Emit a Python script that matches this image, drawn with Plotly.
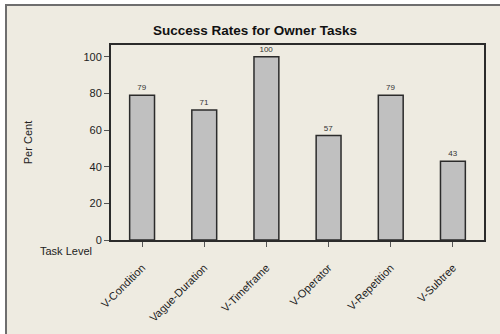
import plotly.graph_objects as go

tasks = ["V-Condition", "Vague-Duration", "V-Timeframe", "V-Operator", "V-Repetition", "V-Subtree"]
success = [79, 71, 100, 57, 79, 43]

bg = "#EEEBE1"
dark = "#2b2b2b"

fig = go.Figure()
fig.add_trace(go.Bar(
    x=tasks,
    y=success,
    width=0.4,
    marker=dict(color="#C0C0C0", line=dict(color=dark, width=1.5)),
    text=[str(v) for v in success],
    textposition="outside",
    textfont=dict(size=8, color="#333333"),
    cliponaxis=False,
    showlegend=False,
))

fig.update_layout(
    width=500,
    height=334,
    autosize=False,
    margin=dict(l=111, r=16, t=45, b=94),
    paper_bgcolor="white",
    plot_bgcolor="white",
    font=dict(family="Arial, Liberation Sans", size=11, color="#222222"),
    title=dict(text="<b>Success Rates for Owner Tasks</b>", x=0.51, xanchor="center",
               y=1 - 30 / 334, yanchor="middle", font=dict(size=13.5, color="#111111")),
    shapes=[
        # beige panel with gray top/left border
        dict(type="rect", xref="paper", yref="paper",
             x0=-105 / 373, x1=1.2, y0=-0.5, y1=1 + 40 / 195,
             fillcolor=bg, line=dict(color="#6e6e6e", width=2), layer="below"),
    ],
    annotations=[
        dict(text="Task Level", xref="paper", yref="paper", x=-73 / 373, y=-11 / 195,
             xanchor="left", yanchor="middle", showarrow=False, font=dict(size=11)),
    ],
)

fig.update_xaxes(
    range=[-0.5, 5.5],
    automargin=False,
    tickangle=-45,
    ticks="outside",
    ticklen=5,
    tickcolor="#555555",
    ticklabelstandoff=10,
    showline=True,
    linecolor=dark,
    linewidth=2,
    mirror=True,
    tickfont=dict(size=11),
)
fig.update_yaxes(
    range=[0, 106.4],
    automargin=False,
    tickvals=[0, 20, 40, 60, 80, 100],
    ticks="outside",
    ticklen=5,
    tickcolor="#555555",
    showline=True,
    linecolor=dark,
    linewidth=2,
    mirror=True,
    showgrid=False,
    zeroline=False,
    title=dict(text="Per Cent", standoff=49, font=dict(size=11)),
)

fig.write_html("out.html", config={"displayModeBar": False},
               post_script="document.body.style.margin='0';")
